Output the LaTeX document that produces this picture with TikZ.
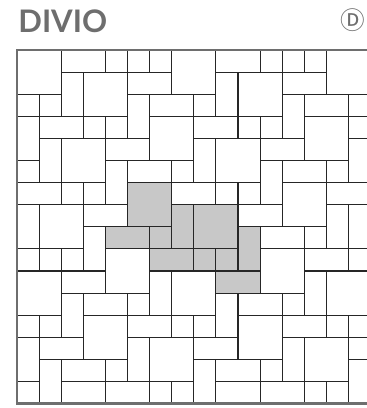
\documentclass[tikz,border=0pt]{standalone}
\usepackage{fontspec}
\newfontfamily\titlefont{Lato}
\newfontfamily\markfont{Noto Sans CJK SC}

\definecolor{ink}{HTML}{6E6E6E}
\definecolor{shade}{HTML}{C8C8C8}

\tikzset{
  stone/.style={draw=black!85, line width=0.8pt, fill=white},
  shaded/.style={stone, fill=shade},
  frame/.style={draw=ink, line width=2.3pt},
  title/.style={anchor=base west, inner sep=0pt, text=ink,
                font=\titlefont\bfseries\fontsize{24}{24}\selectfont},
  badge/.style={anchor=east, inner sep=0pt, text=ink,
                font=\markfont\fontsize{19}{19}\selectfont}
}

\begin{document}
\begin{tikzpicture}[x=0.6cm, y=0.6cm]
  \useasboundingbox (-0.769, 2.262) rectangle (15.792, -16.199);

  % Title
  \node[title] (name) at (0.05, 0.81) {DIVIO};
  \node[badge] (mark) at (15.77, 1.36) {Ⓓ};

  % Stones
  \foreach \c/\r/\w/\h in {
      0/0/2/2, 2/0/2/1, 4/0/1/1, 5/0/1/1, 6/0/1/1, 7/0/2/2, 9/0/2/1, 11/0/1/1, 12/0/1/1, 13/0/1/1, 14/0/2/2,
      2/1/1/2, 3/1/2/2, 5/1/2/1, 9/1/1/2, 10/1/2/2, 12/1/2/1,
      0/2/1/1, 1/2/1/1, 5/2/1/2, 6/2/2/1, 8/2/1/1, 12/2/1/2, 13/2/2/1, 15/2/1/1,
      0/3/1/2, 1/3/2/1, 3/3/1/1, 4/3/1/1, 6/3/2/2, 8/3/2/1, 10/3/1/1, 11/3/1/1, 13/3/2/2, 15/3/1/1,
      1/4/1/2, 2/4/2/2, 4/4/2/1, 8/4/1/2, 9/4/2/2, 11/4/2/1, 15/4/1/2,
      0/5/1/1, 4/5/1/2, 5/5/2/1, 7/5/1/1, 11/5/1/2, 12/5/2/1, 14/5/1/1,
      0/6/2/1, 2/6/1/1, 3/6/1/1, 7/6/2/1, 9/6/1/1, 10/6/1/1, 12/6/2/2, 14/6/2/1,
      0/7/1/2, 1/7/2/2, 3/7/2/1, 10/7/2/1, 14/7/1/2, 15/7/1/2,
      3/8/1/2, 11/8/2/1, 13/8/1/1,
      0/9/1/1, 1/9/1/1, 2/9/1/1, 4/9/2/2, 11/9/2/2, 13/9/2/1, 15/9/1/1,
      0/10/2/2, 2/10/2/1, 6/10/1/2, 7/10/2/2, 13/10/1/2, 14/10/2/2,
      2/11/1/2, 3/11/2/1, 5/11/1/1, 9/11/1/2, 10/11/2/1, 12/11/1/1,
      0/12/1/1, 1/12/1/1, 3/12/2/2, 5/12/2/1, 7/12/1/1, 8/12/1/1, 10/12/2/2, 12/12/2/1, 14/12/1/1, 15/12/1/1,
      0/13/1/2, 1/13/2/1, 5/13/1/2, 6/13/2/2, 8/13/2/1, 12/13/1/2, 13/13/2/2, 15/13/1/1,
      1/14/1/2, 2/14/2/1, 4/14/1/1, 8/14/1/2, 9/14/2/1, 11/14/1/1, 15/14/1/2,
      0/15/1/1, 2/15/2/1, 4/15/2/1, 6/15/1/1, 7/15/1/1, 9/15/2/1, 11/15/2/1, 13/15/1/1, 14/15/1/1}
    \draw[stone] (\c, -\r) rectangle ++(\w, -\h);

  % Shaded stones
  \foreach \c/\r/\w/\h in {
      5/6/2/2, 7/7/1/2, 8/7/2/2, 4/8/2/1, 6/8/1/1, 10/8/1/2,
      6/9/2/1, 8/9/1/1, 9/9/1/1, 9/10/2/1}
    \draw[shaded] (\c, -\r) rectangle ++(\w, -\h);

  % Frame
  \draw[frame] (0, 0) rectangle (16, -16);

\end{tikzpicture}
\end{document}
